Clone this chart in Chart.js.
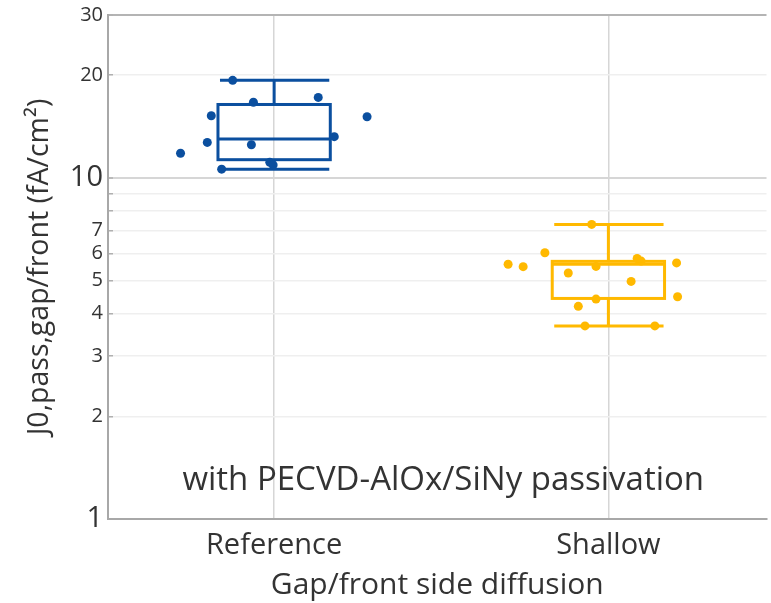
<!DOCTYPE html>
<html>
<head>
<meta charset="utf-8">
<script src="https://cdn.jsdelivr.net/npm/chart.js@4/dist/chart.umd.min.js"></script>
<style>
  html, body { margin: 0; padding: 0; background: #fff; }
  #chart { display: block; }
</style>
</head>
<body>
<canvas id="chart" width="771" height="603"></canvas>
<script>
// categories and measured J0 values (fA/cm2)
const categories = ['Reference', 'Shallow'];

const refValues = [19.3, 16.65, 17.2, 15.2, 15.1, 12.7, 13.2, 12.5, 11.8, 11.1, 10.9, 10.6];
const refJitter = [-0.124, -0.062, 0.132, -0.188, 0.278, -0.2, 0.18, -0.068, -0.28, -0.013, -0.003, -0.157];

const shallowValues = [7.3, 5.58, 5.49, 6.03, 5.26, 5.5, 5.8, 5.7, 4.97, 5.63, 4.48, 4.41, 4.2, 3.68, 3.68];
const shallowJitter = [-0.05, -0.3, -0.255, -0.19, -0.12, -0.037, 0.086, 0.098, 0.068, 0.204, 0.207, -0.037, -0.09, -0.07, 0.139];

// box statistics per category
const boxLow = [10.6, 3.68];
const boxQ1 = [11.3, 4.43];
const boxMedian = [13.0, 5.58];
const boxQ3 = [16.4, 5.69];
const boxHigh = [19.3, 7.3];

// y axis ticks
const yTicks = [1, 2, 3, 4, 5, 6, 7, 8, 9, 10, 20, 30];
const yLabels = [1, 2, 3, 4, 5, 6, 7, 10, 20, 30];
const yBigLabels = [1, 10];

const colors = ['#0b4f9f', '#ffb900'];
const fontFamily = '"Open Sans", sans-serif';
const textColor = '#333333';
const note = 'with PECVD-AlOx/SiNy passivation';

//Box and whisker drawing through the chart scales
const boxPlot = {
	id: 'boxPlot',
	beforeDatasetsDraw(chart) {
		const {ctx, scales: {x, y}} = chart;
		const half = 0.168;
		ctx.save();
		ctx.lineWidth = 3;
		categories.forEach((name, i) => {
			const left = x.getPixelForValue(i - half);
			const right = x.getPixelForValue(i + half);
			const mid = x.getPixelForValue(i);
			const yLow = y.getPixelForValue(boxLow[i]);
			const yQ1 = y.getPixelForValue(boxQ1[i]);
			const yMed = y.getPixelForValue(boxMedian[i]);
			const yQ3 = y.getPixelForValue(boxQ3[i]);
			const yHigh = y.getPixelForValue(boxHigh[i]);
			ctx.strokeStyle = colors[i];
			ctx.beginPath();
			// whiskers
			ctx.moveTo(mid, yQ3); ctx.lineTo(mid, yHigh);
			ctx.moveTo(mid, yQ1); ctx.lineTo(mid, yLow);
			// caps
			ctx.moveTo(left + 2, yHigh); ctx.lineTo(right - 1, yHigh);
			ctx.moveTo(left + 2, yLow); ctx.lineTo(right - 1, yLow);
			// median
			ctx.moveTo(left, yMed); ctx.lineTo(right, yMed);
			ctx.stroke();
			ctx.strokeRect(left, yQ3, right - left, yQ1 - yQ3);
		});
		ctx.restore();
	},
	afterDraw(chart) {
		const {ctx, chartArea, scales: {y}} = chart;
		ctx.save();
		ctx.font = '33px ' + fontFamily;
		ctx.fillStyle = textColor;
		ctx.textAlign = 'center';
		ctx.textBaseline = 'middle';
		ctx.fillText(note, (chartArea.left + chartArea.right) / 2 + 6, y.getPixelForValue(1.3));
		ctx.restore();
	}
};

const ctx = document.getElementById('chart').getContext('2d');
const myChart = new Chart(ctx, {
	type: 'scatter',
	data: {
		datasets: [{
			label: categories[0],
			data: refValues.map((v, i) => ({x: 0 + refJitter[i], y: v})),
			backgroundColor: colors[0],
			borderWidth: 0,
			pointRadius: 4.5
		}, {
			label: categories[1],
			data: shallowValues.map((v, i) => ({x: 1 + shallowJitter[i], y: v})),
			backgroundColor: colors[1],
			borderWidth: 0,
			pointRadius: 4.5
		}]
	},
	options: {
		responsive: false,
		animation: false,
		layout: {
			padding: {top: 15, right: 0, bottom: 0, left: 0}
		},
		plugins: {
			legend: {display: false},
			tooltip: {enabled: false}
		},
		scales: {
			x: {
				type: 'linear',
				min: -0.497,
				max: 1.473,
				afterBuildTicks: (scale) => {
					scale.ticks = categories.map((c, i) => ({value: i}));
				},
				afterFit: (scale) => {
					scale.height = 84;
					scale.paddingLeft = 0;
					scale.paddingRight = 0;
				},
				ticks: {
					autoSkip: false,
					maxRotation: 0,
					padding: 9,
					color: textColor,
					font: {family: fontFamily, size: 29},
					callback: (value) => categories[value]
				},
				grid: {
					color: '#d6d6d6',
					lineWidth: 1.5,
					drawTicks: false
				},
				border: {color: '#a8a8a8', width: 2},
				title: {
					display: true,
					text: 'Gap/front side diffusion',
					color: textColor,
					font: {family: fontFamily, size: 30},
					padding: {top: 0, bottom: 0}
				}
			},
			y: {
				type: 'logarithmic',
				min: 1,
				max: 30,
				afterBuildTicks: (scale) => {
					scale.ticks = yTicks.map(v => ({value: v}));
				},
				afterFit: (scale) => {
					scale.width = 108;
					scale.paddingTop = 0;
					scale.paddingBottom = 0;
				},
				ticks: {
					padding: 10,
					color: textColor,
					font: (c) => ({
						family: fontFamily,
						size: c.tick && yBigLabels.includes(c.tick.value) ? 29 : 20
					}),
					callback: (value) => yLabels.includes(value) ? String(value) : ''
				},
				grid: {
					color: (c) => c.tick.value === 30 ? '#b4b4b4' : (c.tick.value === 10 ? '#d6d6d6' : '#efefef'),
					lineWidth: (c) => (c.tick.value === 30 || c.tick.value === 10) ? 2 : 1.5,
					tickLength: -5,
					tickColor: '#b0b0b0',
					tickWidth: 1.5
				},
				border: {color: '#a8a8a8', width: 2},
				title: {
					display: true,
					text: 'J0,pass,gap/front (fA/cm²)',
					color: textColor,
					font: {family: fontFamily, size: 28.5},
					padding: {top: 23, bottom: 0}
				}
			}
		}
	},
	plugins: [boxPlot]
});
</script>
</body>
</html>
